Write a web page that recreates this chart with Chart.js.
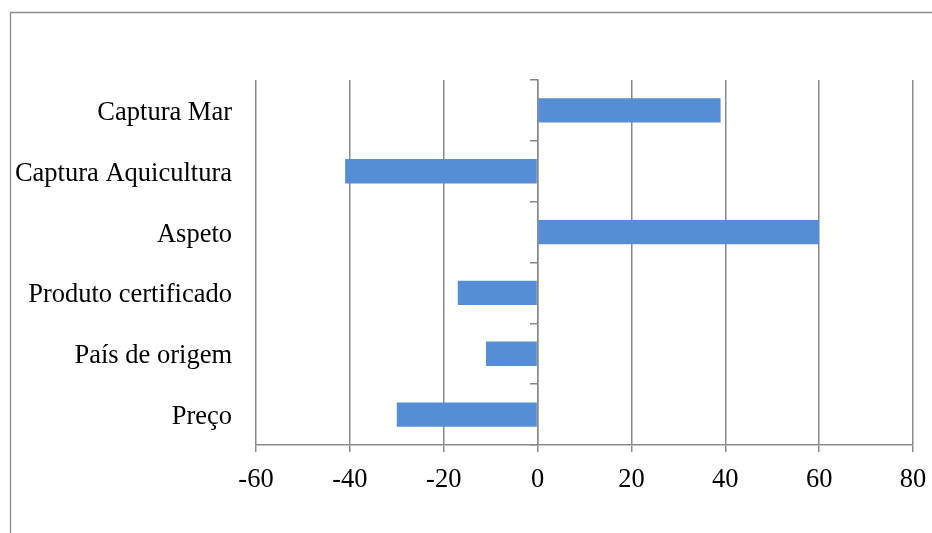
<!DOCTYPE html>
<html>
<head>
<meta charset="utf-8">
<script src="https://cdn.jsdelivr.net/npm/chart.js@4/dist/chart.umd.min.js"></script>
<style>
  html, body { margin: 0; padding: 0; background: #ffffff; }
  canvas { display: block; }
</style>
</head>
<body>
<canvas id="chart" width="932" height="533"></canvas>
<script>
// Categories, listed top to bottom
const categories = [
  'Captura Mar',
  'Captura Aquicultura',
  'Aspeto',
  'Produto certificado',
  'País de origem',
  'Preço'
];
// Score for each category
const scores = [39, -41, 60, -17, -11, -30];
// Horizontal axis range and step
const axisMin = -60;
const axisMax = 80;
const axisStep = 20;

const GRID = '#898989';
const FONT = { family: '"Liberation Serif", "Times New Roman", serif', size: 26.5 };

// White page plus the thin frame around the chart
const framePlugin = {
  id: 'frame',
  beforeDraw(chart) {
    const ctx = chart.ctx;
    ctx.save();
    ctx.fillStyle = '#ffffff';
    ctx.fillRect(0, 0, chart.width, chart.height);
    ctx.strokeStyle = '#8a8a8a';
    ctx.lineWidth = 1.3;
    ctx.beginPath();
    ctx.moveTo(10.5, chart.height);
    ctx.lineTo(10.5, 12.5);
    ctx.lineTo(chart.width, 12.5);
    ctx.stroke();
    ctx.restore();
  }
};

new Chart(document.getElementById('chart'), {
  type: 'bar',
  data: {
    labels: categories,
    datasets: [{
      data: scores,
      backgroundColor: '#558ED5',
      borderWidth: 0,
      barPercentage: 0.4,
      categoryPercentage: 1.0,
      yAxisID: 'y'
    }]
  },
  options: {
    indexAxis: 'y',
    responsive: false,
    animation: false,
    layout: { padding: { top: 80, right: 19, left: 0, bottom: 0 } },
    plugins: {
      legend: { display: false },
      tooltip: { enabled: false }
    },
    scales: {
      x: {
        type: 'linear',
        min: axisMin,
        max: axisMax,
        ticks: {
          stepSize: axisStep,
          color: '#000000',
          font: FONT,
          padding: 12,
          maxRotation: 0
        },
        grid: {
          color: GRID,
          lineWidth: 1.5,
          drawTicks: true,
          tickLength: 7,
          tickColor: GRID
        },
        border: { display: true, color: GRID, width: 1.5 },
        afterFit(scale) {
          scale.height = 88;
          scale.paddingLeft = 0;
          scale.paddingRight = 0;
        }
      },
      y: {
        type: 'category',
        position: 'left',
        ticks: {
          color: '#000000',
          font: FONT,
          padding: 24,
          labelOffset: 2.5
        },
        grid: { display: false, drawTicks: false },
        border: { display: false },
        afterFit(scale) { scale.width = 256; }
      },
      // Vertical axis drawn at zero, carrying the category tick marks
      yZero: {
        type: 'category',
        labels: categories,
        position: { x: 0 },
        offset: true,
        ticks: { display: false },
        grid: {
          offset: true,
          drawOnChartArea: false,
          drawTicks: true,
          tickLength: 7,
          color: GRID,
          tickColor: GRID,
          lineWidth: 1.5
        },
        border: { display: true, color: GRID, width: 1.5 }
      }
    }
  },
  plugins: [framePlugin]
});
</script>
</body>
</html>
